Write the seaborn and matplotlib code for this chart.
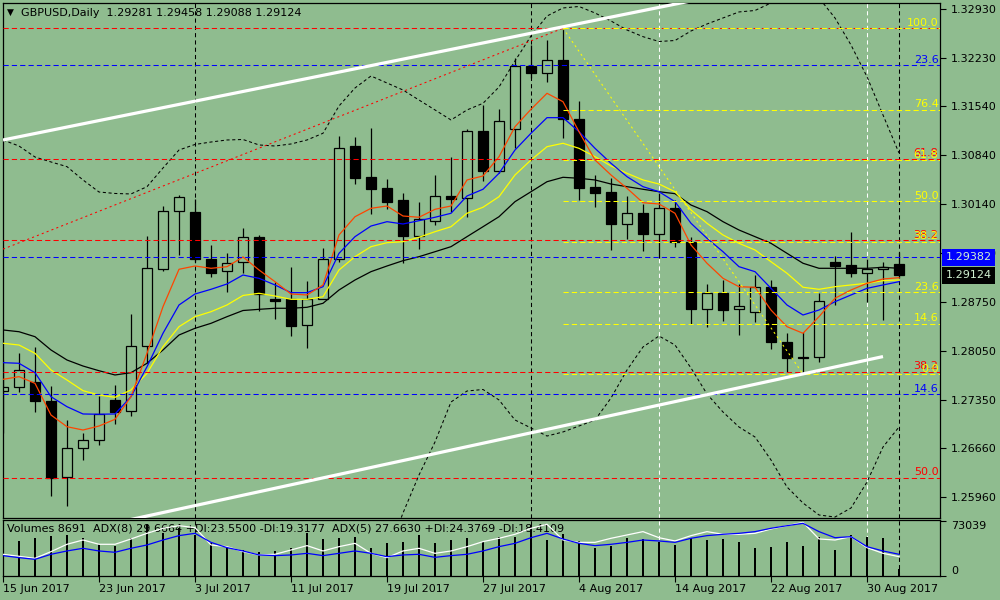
import numpy as np
import matplotlib
matplotlib.use("Agg")
import matplotlib.pyplot as plt
import matplotlib.transforms as mtransforms
import seaborn as sns

plt.rcParams['font.family'] = ['DejaVu Sans']

# ---------------- data ----------------
symbol_header = "GBPUSD,Daily  1.29281 1.29458 1.29088 1.29124"
indicator_header = ("Volumes 8691  ADX(8) 29.6664 +DI:23.5500 -DI:19.3177  "
                    "ADX(5) 27.6630 +DI:24.3769 -DI:18.4109")

date_labels = ['15 Jun 2017', '23 Jun 2017', '3 Jul 2017', '11 Jul 2017', '19 Jul 2017',
               '27 Jul 2017', '4 Aug 2017', '14 Aug 2017', '22 Aug 2017', '30 Aug 2017']
date_label_bars = [0, 6, 12, 18, 24, 30, 36, 42, 48, 54]

price_ticks = [1.32930, 1.32230, 1.31540, 1.30840, 1.30140, 1.29450,
               1.28750, 1.28050, 1.27350, 1.26660, 1.25960]

opens = [1.27469, 1.27526, 1.27602, 1.27335, 1.26240, 1.26655, 1.26769, 1.27345, 1.27188, 1.28116,
         1.29220, 1.30040, 1.30030, 1.29355, 1.29183, 1.29312, 1.29669, 1.28788, 1.28783, 1.28412,
         1.28792, 1.29355, 1.30973, 1.30530, 1.30373, 1.30202, 1.29692, 1.29906, 1.30259, 1.30226,
         1.31188, 1.30620, 1.31220, 1.32116, 1.32012, 1.32202, 1.31359, 1.30383, 1.30316, 1.29863,
         1.30012, 1.29720, 1.30083, 1.29598, 1.28649, 1.28869, 1.28640, 1.28598, 1.28955, 1.28178,
         1.27959, 1.27955, 1.29320, 1.29269, 1.29155, 1.29212, 1.29281]
highs = [1.27916, 1.28012, 1.28098, 1.27545, 1.27059, 1.26878, 1.27402, 1.27559, 1.28573, 1.29688,
         1.30116, 1.30273, 1.30212, 1.29559, 1.29440, 1.29802, 1.29706, 1.29035, 1.29240, 1.29045,
         1.29516, 1.31116, 1.31106, 1.31230, 1.30502, 1.30306, 1.30169, 1.30559, 1.30812, 1.31212,
         1.31559, 1.31502, 1.32226, 1.32416, 1.32488, 1.32655, 1.31616, 1.30559, 1.30512, 1.30259,
         1.30145, 1.30298, 1.30202, 1.29678, 1.29002, 1.29059, 1.29002, 1.29130, 1.29059, 1.28298,
         1.28320, 1.28869, 1.29402, 1.29749, 1.29355, 1.29320, 1.29458]
lows = [1.26873, 1.27459, 1.27173, 1.25973, 1.25830, 1.26488, 1.26698, 1.27002, 1.27120, 1.27878,
        1.29192, 1.29416, 1.29316, 1.29098, 1.28892, 1.29155, 1.28620, 1.28502, 1.28263, 1.28083,
        1.28783, 1.29320, 1.30430, 1.30002, 1.30073, 1.29298, 1.29498, 1.29845, 1.30035, 1.29963,
        1.30478, 1.30583, 1.30940, 1.31945, 1.31892, 1.31092, 1.30202, 1.30106, 1.29488, 1.29640,
        1.29478, 1.29373, 1.29535, 1.28430, 1.28383, 1.28478, 1.28273, 1.28463, 1.28069, 1.27749,
        1.27716, 1.27892, 1.28702, 1.29106, 1.28749, 1.28488, 1.29088]
closes = [1.27526, 1.27769, 1.27335, 1.26235, 1.26655, 1.26773, 1.27140, 1.27178, 1.28116, 1.29226,
          1.30040, 1.30240, 1.29355, 1.29163, 1.29298, 1.29669, 1.28859, 1.28763, 1.28402, 1.28792,
          1.29355, 1.30940, 1.30520, 1.30363, 1.30178, 1.29692, 1.29930, 1.30255, 1.30216, 1.31188,
          1.30620, 1.31330, 1.32116, 1.32012, 1.32198, 1.31355, 1.30378, 1.30306, 1.29863, 1.30012,
          1.29720, 1.30083, 1.29602, 1.28645, 1.28869, 1.28635, 1.28692, 1.28955, 1.28178, 1.27940,
          1.27940, 1.28755, 1.29263, 1.29155, 1.29212, 1.29249, 1.29124]

ma_orange = [1.27640, 1.27678, 1.27583, 1.27130, 1.26963, 1.26916, 1.26973, 1.27069, 1.27392, 1.28012,
             1.28678, 1.29212, 1.29259, 1.29226, 1.29249, 1.29388, 1.29202, 1.29035, 1.28859, 1.28845,
             1.28988, 1.29702, 1.29963, 1.30083, 1.30116, 1.29973, 1.29955, 1.30069, 1.30116, 1.30488,
             1.30545, 1.30820, 1.31249, 1.31498, 1.31726, 1.31606, 1.31178, 1.30773, 1.30559, 1.30369,
             1.30163, 1.30145, 1.30012, 1.29559, 1.29298, 1.29083, 1.28963, 1.28955, 1.28630, 1.28392,
             1.28298, 1.28535, 1.28798, 1.28916, 1.29012, 1.29073, 1.29092]
ma_blue = [1.27878, 1.27869, 1.27735, 1.27392, 1.27249, 1.27145, 1.27141, 1.27145, 1.27392, 1.27820,
           1.28298, 1.28702, 1.28859, 1.28926, 1.29002, 1.29130, 1.29083, 1.28988, 1.28878, 1.28878,
           1.28963, 1.29440, 1.29678, 1.29830, 1.29892, 1.29859, 1.29906, 1.29955, 1.30012, 1.30259,
           1.30355, 1.30583, 1.30916, 1.31155, 1.31378, 1.31378, 1.31178, 1.30940, 1.30726, 1.30535,
           1.30392, 1.30320, 1.30178, 1.29869, 1.29655, 1.29463, 1.29249, 1.29178, 1.28940, 1.28702,
           1.28559, 1.28630, 1.28749, 1.28845, 1.28940, 1.28988, 1.29035]
ma_yellow = [1.28155, 1.28130, 1.28012, 1.27773, 1.27630, 1.27478, 1.27416, 1.27383, 1.27488, 1.27726,
             1.28106, 1.28392, 1.28535, 1.28606, 1.28702, 1.28838, 1.28869, 1.28830, 1.28783, 1.28783,
             1.28820, 1.29202, 1.29392, 1.29535, 1.29592, 1.29606, 1.29669, 1.29749, 1.29820, 1.30012,
             1.30098, 1.30249, 1.30559, 1.30773, 1.30963, 1.31012, 1.30940, 1.30820, 1.30688, 1.30583,
             1.30488, 1.30430, 1.30320, 1.30059, 1.29869, 1.29702, 1.29583, 1.29488, 1.29320, 1.29155,
             1.28955, 1.28926, 1.28963, 1.28988, 1.29012, 1.29049, 1.29059]
ma_black = [1.28345, 1.28320, 1.28249, 1.28059, 1.27916, 1.27830, 1.27763, 1.27702, 1.27735, 1.27869,
            1.28059, 1.28273, 1.28369, 1.28440, 1.28535, 1.28623, 1.28640, 1.28655, 1.28655, 1.28669,
            1.28726, 1.28916, 1.29059, 1.29178, 1.29259, 1.29335, 1.29392, 1.29463, 1.29535, 1.29678,
            1.29820, 1.29963, 1.30178, 1.30320, 1.30463, 1.30526, 1.30512, 1.30488, 1.30430, 1.30392,
            1.30355, 1.30320, 1.30292, 1.30130, 1.30035, 1.29892, 1.29773, 1.29678, 1.29583, 1.29440,
            1.29298, 1.29226, 1.29226, 1.29226, 1.29226, 1.29240, 1.29226]
bb_upper = [1.31059, 1.30973, 1.30816, 1.30745, 1.30678, 1.30488, 1.30316, 1.30295, 1.30288, 1.30392,
            1.30659, 1.30916, 1.30995, 1.31030, 1.31059, 1.31066, 1.30988, 1.30973, 1.31002, 1.31059,
            1.31155, 1.31545, 1.31802, 1.31973, 1.31873, 1.31773, 1.31630, 1.31488, 1.31345, 1.31488,
            1.31583, 1.31816, 1.32188, 1.32545, 1.32830, 1.32945, 1.32966, 1.32873, 1.32759, 1.32630,
            1.32535, 1.32466, 1.32480, 1.32616, 1.32716, 1.32802, 1.32888, 1.32909, 1.33016, 1.33130,
            1.33173, 1.33088, 1.32802, 1.32416, 1.31963, 1.31416, 1.30873]
bb_lower_first_bar = 24
bb_lower = [1.25130, 1.25730, 1.26273, 1.26745, 1.27316, 1.27473, 1.27495, 1.27345, 1.27059, 1.26945,
            1.26830, 1.26888, 1.26973, 1.27059, 1.27373, 1.27773, 1.28102, 1.28259, 1.28130, 1.27802,
            1.27430, 1.27173, 1.26959, 1.26816, 1.26488, 1.26102, 1.25873, 1.25702, 1.25673, 1.25802,
            1.26173, 1.26673, 1.26959]

volumes = [38000, 46480, 50460, 53120, 54450, 50460, 42500, 39840, 50460, 69060,
           57100, 63740, 54450, 43820, 37180, 34530, 31870, 33200, 37180, 57100,
           49140, 50460, 51790, 37180, 43820, 45150, 54450, 43820, 47810, 50460,
           45150, 51790, 51790, 67730, 47810, 55780, 46480, 37180, 39840, 50460,
           49140, 45150, 41170, 50460, 47810, 49140, 45150, 37180, 38510, 45150,
           39840, 51790, 34530, 54450, 51790, 50460, 8691]
volume_max_label = 73039

adx_white = [29.3, 26.6, 23.9, 32.9, 42.8, 48.6, 42.8, 42.8, 50.0, 57.6,
             64.4, 67.9, 65.3, 41.9, 39.6, 32.9, 28.4, 29.3, 35.1, 41.0,
             33.8, 39.6, 44.1, 30.6, 24.8, 33.8, 37.4, 30.6, 33.8, 39.6,
             46.4, 50.9, 56.3, 64.4, 69.8, 48.6, 45.4, 45.4, 50.9, 55.4,
             59.9, 51.7, 47.3, 54.5, 59.9, 56.3, 56.3, 57.6, 63.5, 67.9,
             72.4, 50.0, 48.6, 53.1, 38.3, 30.6, 26.1]
adx_blue = [27.5, 24.8, 22.5, 29.3, 33.8, 37.4, 33.8, 32.0, 37.4, 41.9,
            48.6, 54.5, 57.6, 45.4, 38.3, 33.8, 28.4, 27.5, 28.4, 30.6,
            27.5, 30.6, 33.8, 30.6, 26.1, 28.4, 29.3, 25.2, 27.5, 29.3,
            33.8, 39.6, 44.1, 51.7, 57.6, 50.0, 44.1, 41.0, 42.8, 45.4,
            48.6, 47.3, 45.4, 50.9, 54.5, 56.3, 57.6, 59.9, 64.4, 67.9,
            71.1, 59.9, 51.7, 53.1, 39.6, 33.8, 29.3]

# Fibonacci (yellow) tool: anchors and levels
fib_high_bar, fib_high = 35, 1.32655
fib_low_bar, fib_low = 50, 1.27716
fib_levels = [0.0, 14.6, 23.6, 38.2, 50.0, 61.8, 76.4, 100.0]
# other horizontal levels (red / blue objects)
red_level_prices = [1.32659, 1.30788, 1.29630, 1.27745, 1.26231]
red_level_labels = ['', '61.8', '38.2', '38.2', '50.0']
blue_level_prices = [1.32130, 1.29382, 1.27430]
blue_level_labels = ['23.6', '', '14.6']

# trend lines (bar, price anchors)
upper_channel_bars, upper_channel_prices = [0, 35], [1.31059, 1.32676]
lower_channel_bars, lower_channel_prices = [4, 55], [1.25440, 1.27965]
red_trend_bars, red_trend_prices = [0, 35], [1.29500, 1.32655]

# vertical separators
black_vlines = [12, 33, 56]
white_vlines = [41, 54]

ask_price = 1.29382
bid_price = 1.29124

# ---------------- drawing ----------------
BG = '#8FBC8F'
YEL = '#FFFF00'
RED = '#FF0000'
BLU = '#0000FF'
ORG = '#FF4500'
LW = 0.75

fig = plt.figure(figsize=(10, 6), dpi=100, facecolor=BG)
xmin = -0.03125
xmax = xmin + 937.5 / 16.0
ax = fig.add_axes([0.0025, 82 / 600, 0.9375, 515.5 / 600], facecolor=BG)
ax2 = fig.add_axes([0.0025, 0.04, 0.9375, 56 / 600], facecolor=BG, sharex=ax)
ax3 = ax2.twinx()

bars = np.arange(len(opens))
o = np.array(opens); c = np.array(closes); h = np.array(highs); l = np.array(lows)
bull = c >= o
body_lo = np.minimum(o, c)
body_h = np.maximum(np.abs(c - o), 1e-6)

# candles
ax.vlines(bars, l, h, color='black', lw=0.9, zorder=2)
ax.bar(bars[bull], body_h[bull], bottom=body_lo[bull], width=0.66, facecolor=BG,
       edgecolor='black', linewidth=0.9, zorder=2.2)
ax.bar(bars[~bull], body_h[~bull], bottom=body_lo[~bull], width=0.66, facecolor='black',
       edgecolor='black', linewidth=0.9, zorder=2.2)

# moving averages
for vals, col in [(ma_black, 'black'), (ma_yellow, YEL), (ma_blue, BLU), (ma_orange, ORG)]:
    sns.lineplot(x=bars, y=vals, ax=ax, color=col, linewidth=0.9, zorder=4, legend=False)

# bollinger bands
sns.lineplot(x=bars, y=bb_upper, ax=ax, color='black', linewidth=LW,
             linestyle=(0, (3, 2.5)), zorder=4, legend=False)
sns.lineplot(x=np.arange(bb_lower_first_bar, bb_lower_first_bar + len(bb_lower)), y=bb_lower,
             ax=ax, color='black', linewidth=LW, linestyle=(0, (3, 2.5)), zorder=4, legend=False)

# horizontal levels
dash = (0, (5, 3))
ax.hlines(red_level_prices, xmin, xmax, colors=RED, linestyles=[dash], lw=LW, zorder=5)
ax.hlines(blue_level_prices, xmin, xmax, colors=BLU, linestyles=[dash], lw=LW, zorder=5)
fib_prices = [fib_low + lv / 100.0 * (fib_high - fib_low) for lv in fib_levels]
ax.hlines(fib_prices, fib_high_bar, xmax, colors=YEL, linestyles=[dash], lw=LW, zorder=5)

blend = mtransforms.blended_transform_factory(ax.transAxes, ax.transData)
def level_label(txt, price, col):
    if txt:
        ax.annotate(txt, xy=(1.0, price), xycoords=blend, xytext=(-1.5, 0.5),
                    textcoords='offset pixels', ha='right', va='bottom', fontsize=8,
                    color=col, zorder=7, annotation_clip=False)
for t, p in zip(red_level_labels, red_level_prices):
    level_label(t, p, RED)
for t, p in zip(blue_level_labels, blue_level_prices):
    level_label(t, p, BLU)
for lv, p in zip(fib_levels, fib_prices):
    level_label(f'{lv:.1f}', p, YEL)

# trend lines
def ray(bx, py, x_end):
    slope = (py[1] - py[0]) / (bx[1] - bx[0])
    return [bx[0], x_end], [py[0], py[0] + slope * (x_end - bx[0])]
ux, uy = ray(upper_channel_bars, upper_channel_prices, xmax)
ax.plot(ux, uy, color='white', lw=2.3, zorder=6, solid_capstyle='butt')
ax.plot(lower_channel_bars, lower_channel_prices, color='white', lw=2.3, zorder=6,
        solid_capstyle='butt')
ax.plot(red_trend_bars, red_trend_prices, color=RED, lw=LW, linestyle=(0, (2, 3)), zorder=5)
ax.plot([fib_high_bar, fib_low_bar], [fib_high, fib_low], color=YEL, lw=LW,
        linestyle=(0, (2, 3)), zorder=5)

# vertical separators
for a in (ax, ax2):
    for b in black_vlines:
        a.axvline(b, color='black', lw=LW, linestyle=(0, (4, 3)), zorder=1.5)
    for b in white_vlines:
        a.axvline(b, color='white', lw=LW, linestyle=(0, (4, 3)), zorder=1.5)

ax.set_xlim(xmin, xmax)
ax.set_ylim(1.25659, 1.33023)
ax.yaxis.tick_right()
ax.set_yticks(price_ticks)
ax.set_yticklabels([f'{p:.5f}' for p in price_ticks])
ax.tick_params(axis='y', direction='out', length=4, width=0.8, labelsize=8, pad=4,
               colors='black')
ax.tick_params(axis='x', bottom=False, labelbottom=False)
ax.set_xlabel(''); ax.set_ylabel('')

# price boxes
ax.text(1.0062, ask_price, f'{ask_price:.5f}', transform=blend, ha='left', va='center',
        fontsize=8, color='#D0F0D0', zorder=8, clip_on=False,
        bbox=dict(boxstyle='square,pad=0.3', fc=BLU, ec='none'))
ax.text(1.0062, bid_price, f'{bid_price:.5f}', transform=blend, ha='left', va='center',
        fontsize=8, color='#D0F0D0', zorder=8, clip_on=False,
        bbox=dict(boxstyle='square,pad=0.3', fc='black', ec='none'))

# headers
fig.text(0.0068, 1 - 12.5 / 600, '\u25BC', fontsize=6.5, va='center', ha='left', color='black')
fig.text(0.021, 1 - 12.5 / 600, symbol_header, fontsize=8, va='center', ha='left', color='black')

# lower panel: volumes + ADX
ax2.bar(bars, volumes, width=0.18, color='black', zorder=2)
ax2.set_ylim(0, volume_max_label * 56 / 55)
ax2.text(0.005, 0.93, indicator_header, transform=ax2.transAxes, fontsize=8, va='top',
         ha='left', color='black', zorder=1)
ax2.set_xlabel(''); ax2.set_ylabel('')

sns.lineplot(x=bars, y=adx_white, ax=ax3, color='white', linewidth=0.9, legend=False)
sns.lineplot(x=bars, y=adx_blue, ax=ax3, color=BLU, linewidth=0.9, legend=False)
ax3.set_ylim(0, 75.6)
ax3.set_yticks([])
ax3.set_ylabel('')
for s in ax3.spines.values():
    s.set_visible(False)

# lower panel axis (after twinx so the right side is kept)
ax2.yaxis.tick_right()
ax2.yaxis.set_label_position('right')
ax2.set_yticks([0, volume_max_label])
ax2.set_yticklabels(['0', str(volume_max_label)])
ax2.tick_params(axis='y', which='both', left=False, labelleft=False, right=True,
                labelright=True, direction='out', length=4, width=0.8, labelsize=8, pad=4)
yl = ax2.get_yticklabels()
yl[0].set_va('bottom'); yl[1].set_va('top')
ax2.set_xticks(date_label_bars)
ax2.set_xticklabels(date_labels, ha='left')
ax2.tick_params(axis='x', direction='out', length=4, width=0.8, labelsize=8, pad=2)
ax2.set_xlim(xmin, xmax)

for a in (ax, ax2):
    for s in a.spines.values():
        s.set_color('black'); s.set_linewidth(0.9)

fig.savefig('out.png', dpi=100, facecolor=BG)
